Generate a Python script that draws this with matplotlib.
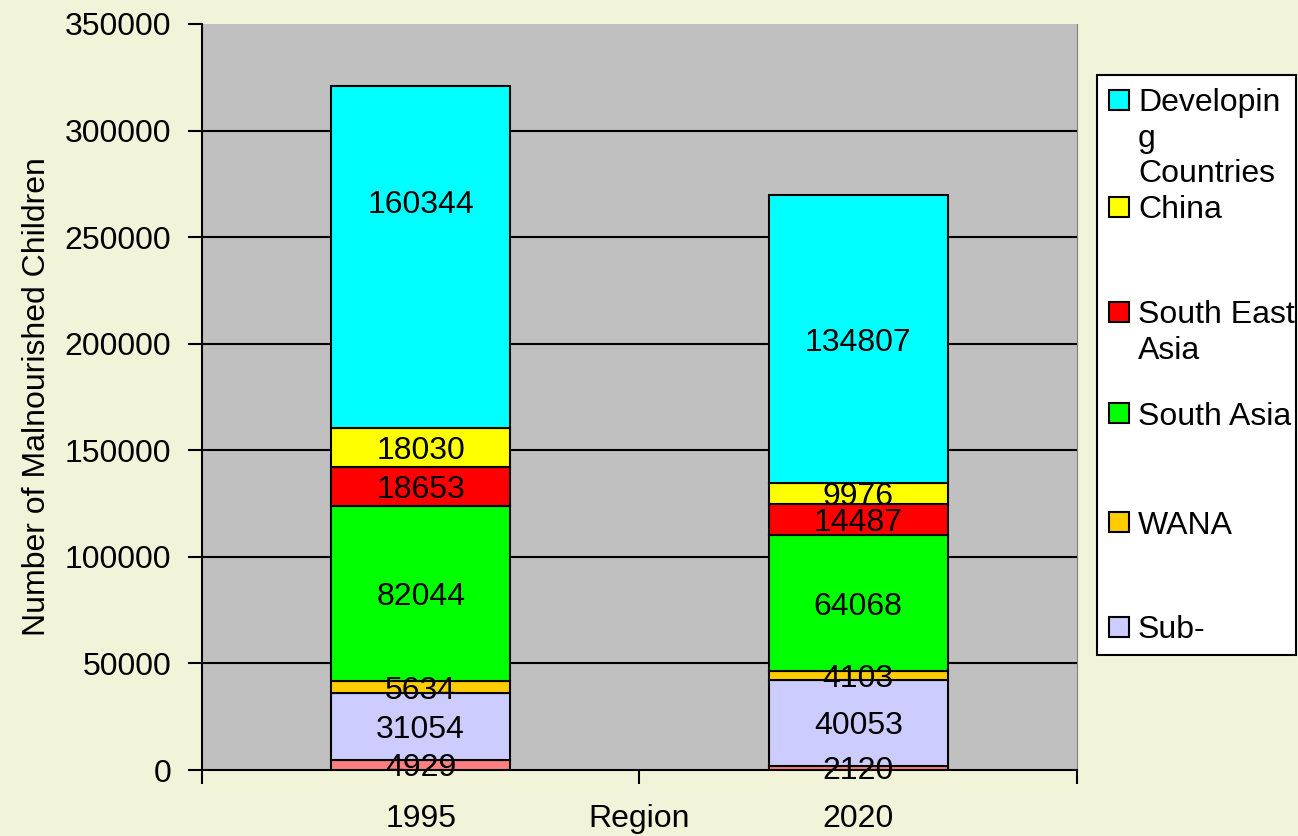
import matplotlib
matplotlib.use("Agg")
import matplotlib.pyplot as plt
from matplotlib.patches import Rectangle
import numpy as np

# data
years = ["1995", "2020"]
series = ["Sub-Saharan Africa", "Sub-", "WANA", "South Asia", "South East\nAsia",
          "China", "Developin\ng\nCountries"]
values = {
    "1995": [4929, 31054, 5634, 82044, 18653, 18030, 160344],
    "2020": [2120, 40053, 4103, 64068, 14487, 9976, 134807],
}
colors = ["#FF8080", "#CCCCFF", "#FFCC00", "#00FF00", "#FF0000", "#FFFF00", "#00FFFF"]
yticks = np.arange(0, 350001, 50000)

plt.rcParams['font.family'] = ['Liberation Sans', 'DejaVu Sans']
FS = 23
bg = "#F2F4DA"

fig = plt.figure(figsize=(12.98, 8.36), dpi=100, facecolor=bg)
ax = fig.add_axes([0.1556, 0.0789, 0.8297 - 0.1556, 0.9713 - 0.0789])
ax.set_facecolor("#C0C0C0")

x = np.arange(len(years))
width = 0.41
bottoms = np.zeros(len(years))
for i, (name, col) in enumerate(zip(series, colors)):
    vals = np.array([values[y][i] for y in years])
    ax.bar(x, vals, width, bottom=bottoms, color=col, edgecolor="black",
           linewidth=1.5, zorder=3)
    for j in range(len(years)):
        yc = bottoms[j] + vals[j] / 2
        if j == 0 and i == len(series) - 1:
            yc += 26000  # label sits higher in the original
        ax.text(x[j], yc, str(vals[j]), ha="center", va="center_baseline",
                fontsize=FS, zorder=4)
    bottoms += vals

ax.set_xlim(-0.5, 1.5)
ax.set_ylim(0, 350000)
ax.set_yticks(yticks)
ax.set_yticklabels([str(v) for v in yticks], fontsize=FS)
ax.set_xticks([-0.5, 0.5, 1.5])
ax.set_xticklabels([])
ax.tick_params(axis="x", length=10, width=1.5, direction="out")
ax.tick_params(axis="y", length=10, width=1.5, direction="out", pad=12)
for j, y in enumerate(years):
    ax.text(x[j], -0.066, y, transform=ax.get_xaxis_transform(),
            ha="center", va="center", fontsize=FS)
ax.text(0.5, -0.066, "Region", transform=ax.get_xaxis_transform(),
        ha="center", va="center", fontsize=FS)

for v in yticks[1:-1]:
    ax.axhline(v, color="black", linewidth=1.5, zorder=1)

ax.set_ylabel("Number of Malnourished Children", fontsize=FS, labelpad=9)
ax.spines["top"].set_visible(False)
ax.spines["right"].set_color("#808080")
ax.spines["left"].set_linewidth(1.5)
ax.spines["bottom"].set_linewidth(1.5)

# legend box drawn by hand (Excel-style spacing)
W, H = 1298, 836
def fx(px): return px / W
def fy(py): return 1 - py / H

fig.patches.append(Rectangle((fx(1097), fy(655)), fx(1296) - fx(1097),
                             fy(75) - fy(655), transform=fig.transFigure,
                             facecolor="white", edgecolor="black", linewidth=1.5))
leg_rows = [100, 207, 312, 413, 522, 627]
for k, row in enumerate(leg_rows):
    idx = len(series) - 1 - k
    fig.patches.append(Rectangle((fx(1109), fy(row + 10)), fx(20), 20 / H,
                                 transform=fig.transFigure, facecolor=colors[idx],
                                 edgecolor="black", linewidth=1.5))
    if "\n" in series[idx]:
        fig.text(fx(1138), fy(row - 12), series[idx], ha="left", va="top",
                 fontsize=FS, linespacing=1.25)
    else:
        fig.text(fx(1138), fy(row), series[idx], ha="left", va="center_baseline",
                 fontsize=FS)

fig.savefig("out.png", dpi=100, facecolor=bg)
